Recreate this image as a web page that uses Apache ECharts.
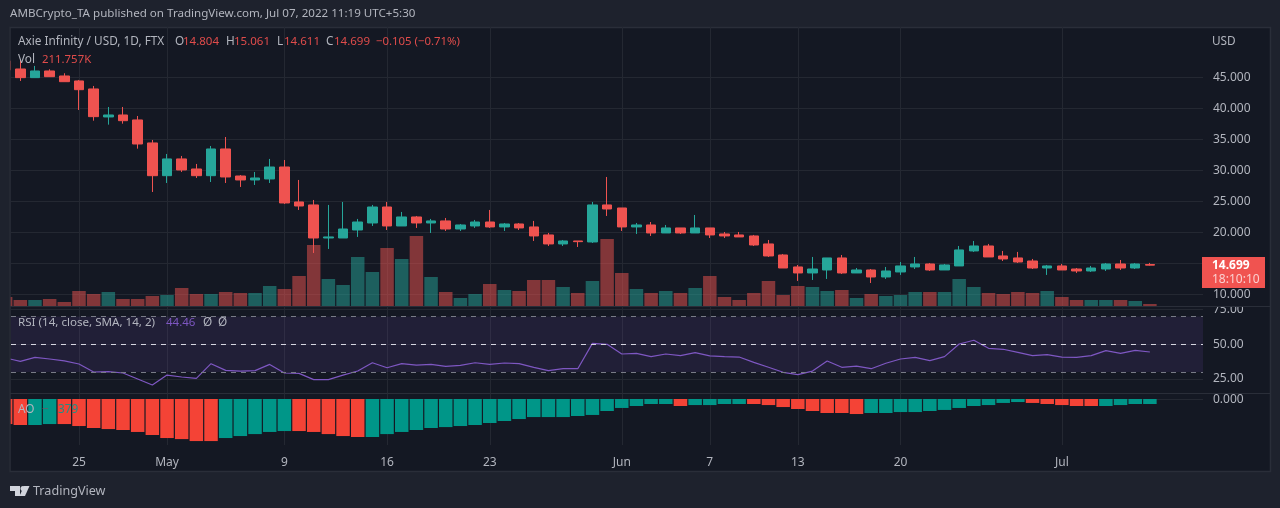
<!DOCTYPE html>
<html><head><meta charset="utf-8">
<style>html,body{margin:0;padding:0;background:#1e222d}#c{width:1280px;height:508px}</style>
<script src="https://cdn.jsdelivr.net/npm/echarts@6/dist/echarts.min.js"></script>
</head><body><div id="c"></div>
<script>
const firstDayOffset = -5; // Apr 20, counted from Apr 25
const opens = [47.63,46.34,44.94,46.02,45.21,44.41,43.12,38.60,38.92,38.12,34.41,
29.13,31.83,30.21,29.13,33.44,29.08,28.44,28.60,30.53,24.89,24.41,19.08,19.08,20.37,21.50,24.08,21.02,22.47,21.50,21.83,20.53,21.02,21.66,20.86,21.34,20.86,19.57,18.12,18.60,18.44,24.41,
23.92,20.86,21.18,19.89,20.70,19.89,20.70,19.73,19.57,19.41,18.12,16.34,14.41,13.44,13.92,15.86,13.44,13.92,12.79,13.60,14.41,14.89,13.92,14.57,16.99,17.79,16.18,15.86,15.37,14.24,
14.57,14.08,13.76,14.08,14.89,14.24,14.804];
const closes = [46.18,44.94,46.02,45.10,44.29,43.00,38.65,38.92,38.00,34.24,29.13,
31.83,30.05,29.13,33.44,28.92,28.44,28.76,30.53,24.73,24.24,19.08,19.25,20.53,21.66,24.08,21.02,22.47,21.50,21.83,20.53,21.18,21.66,20.86,21.34,20.70,19.41,18.12,18.60,18.49,24.41,23.76,
20.86,21.18,19.89,20.70,19.89,20.70,19.57,19.41,19.25,17.95,16.18,14.24,13.44,14.08,15.86,13.44,13.92,12.79,13.76,14.57,14.89,13.92,14.73,17.15,17.79,16.02,15.70,15.21,14.24,14.57,
13.92,13.76,14.24,14.89,14.24,14.89,14.699];
const lows = [46.02,44.41,44.94,45.05,44.29,39.73,38.00,37.36,37.52,33.49,26.50,
27.95,29.73,28.76,28.11,27.95,27.31,27.63,27.95,24.57,23.60,16.66,17.31,19.08,19.25,21.02,20.37,21.02,20.70,19.89,20.21,20.21,20.70,20.70,20.21,20.37,18.60,17.79,17.79,17.63,18.28,22.63,
20.21,19.73,19.41,19.89,19.73,19.89,19.08,19.08,19.25,17.79,16.02,14.24,12.15,12.31,12.47,13.28,13.44,11.82,12.47,13.12,14.08,13.76,13.92,14.57,16.83,16.02,15.37,15.05,14.08,13.12,
13.92,13.44,13.60,13.76,13.92,14.08,14.611];
const highs = [47.79,47.79,46.83,46.29,45.65,44.57,43.60,40.21,40.21,38.76,34.89,
32.63,32.31,31.02,33.92,35.37,29.24,29.73,31.83,31.66,28.44,25.21,24.41,24.89,22.15,24.41,24.89,23.28,22.63,22.15,22.31,21.34,21.99,23.60,21.50,21.50,21.83,19.89,18.76,18.60,24.89,28.92,
23.92,21.50,21.66,21.18,20.70,22.79,20.70,20.05,20.05,19.57,18.76,16.50,14.73,16.02,15.86,16.34,14.24,14.08,14.41,15.21,16.02,15.05,14.89,17.79,18.60,18.12,16.99,16.83,15.70,14.73,
14.89,14.24,14.57,15.05,15.53,15.05,15.061];
const volumes = [954,636,636,742,424,1590,1272,1484,742,742,1060,
1166,1908,1272,1272,1484,1378,1378,2120,1802,3180,6466,2862,2226,5194,3604,6148,4982,7420,3074,1484,848,1272,2332,1696,1590,2756,2756,2014,1378,2650,7102,
3498,1802,1378,1590,1378,1908,3180,954,636,1378,2650,1166,2120,2014,1590,1696,848,1272,1060,1166,1484,1484,1484,2862,2014,1378,1272,1484,1378,1590,
954,636,636,636,636,530,212];
const rsi = [40.1,37.7,40.6,39.4,38.0,35.8,30.0,30.3,29.3,25.0,20.6,
27.8,26.4,25.4,36.0,31.2,30.7,31.0,35.5,29.3,29.0,24.5,24.5,27.8,30.7,36.7,33.1,36.0,35.0,35.5,34.1,34.8,36.7,35.5,36.5,36.0,33.4,31.0,32.4,32.4,50.7,50.0,
43.0,43.5,41.1,43.0,41.8,44.0,41.6,41.1,40.8,37.0,33.4,29.8,28.1,30.7,38.0,33.4,34.3,32.4,36.3,39.4,40.6,38.2,41.1,50.2,52.9,47.1,46.4,44.2,41.8,42.5,
40.8,40.6,41.8,45.4,43.5,45.6,44.46];
const ao = [-1.90,-1.97,-1.97,-1.90,-1.90,-2.05,-2.20,-2.28,-2.35,-2.50,-2.73,
-2.96,-3.04,-3.19,-3.19,-2.96,-2.81,-2.66,-2.50,-2.43,-2.43,-2.50,-2.66,-2.81,-2.88,-2.88,-2.66,-2.50,-2.35,-2.20,-2.13,-2.05,-1.97,-1.82,-1.67,-1.52,-1.37,-1.37,-1.37,-1.29,-1.21,-0.91,
-0.68,-0.53,-0.38,-0.38,-0.53,-0.46,-0.46,-0.38,-0.38,-0.38,-0.46,-0.61,-0.76,-0.91,-1.06,-1.06,-1.14,-1.06,-1.06,-0.99,-0.99,-0.91,-0.83,-0.68,-0.53,-0.46,-0.30,-0.23,-0.30,-0.38,
-0.46,-0.53,-0.53,-0.53,-0.46,-0.38,-0.379];
const aoRising = ("00" + "11" + "00000000000" + "11111" + "00000" + "111111111111111111111" + "0" + "1111" + "00000000" + "11111111111" + "00000" + "1111").split("");
const tickDays = [0,6,14,21,28,37,43,49,56,67];
const tickLabels = ['25','May','9','16','23','Jun','7','13','20','Jul'];
const priceTicks = [10,15,20,25,30,35,40,45];
const priceLabels = ['10.000','','20.000','25.000','30.000','35.000','40.000','45.000'];
const rsiTicks = [25,50,75];

const FONT = '"Noto Sans", sans-serif';
const GRAY = '#b2b5be', RED = '#ef5350', TEAL = '#26a69a', GRID = '#242832', LEG_RED = '#e04c4b', OUTER = '#1e222d', EDGE = '#2a2e39', PANEL = '#141823';
const day = i => i + firstDayOffset;
const gridL = 11, gridW = 1192;
const xMin = -4.635, xMax = 76.62;

const candles = opens.map((o, i) => [day(i), o, closes[i], lows[i], highs[i]]);
const vol = volumes.map((v, i) => ({value: [day(i), v],
  itemStyle: {color: closes[i] >= opens[i] ? 'rgba(38,166,154,0.5)' : 'rgba(239,83,80,0.5)'}}));
const rsiLine = rsi.map((v, i) => [day(i), v]);
const aoBars = ao.map((v, i) => ({value: [day(i), v],
  itemStyle: {color: aoRising[i] === '1' ? '#009688' : '#f44336'}}));

const xAxis = (idx, labels) => ({
  type: 'value', gridIndex: idx, min: xMin, max: xMax,
  axisLine: {show: false},
  axisTick: {show: false, customValues: tickDays},
  splitLine: {show: true, lineStyle: {color: GRID, width: 1}},
  axisLabel: labels ? {show: true, customValues: tickDays, color: GRAY, fontFamily: FONT, fontSize: 12, margin: 12,
    formatter: v => tickLabels[tickDays.indexOf(v)] || ''} : {show: false}
});
const yAxis = (idx, min, max, ticks, fmt) => ({
  type: 'value', gridIndex: idx, position: 'right', min, max,
  axisLine: {show: false},
  axisTick: {show: false, customValues: ticks},
  splitLine: {show: true, lineStyle: {color: GRID, width: 1}},
  axisLabel: fmt ? {show: true, customValues: ticks, color: GRAY, fontFamily: FONT, fontSize: 12, margin: 10, formatter: fmt} : {show: false}
});

const T = (x, y, text, fill, size, extra) => ({type: 'text', x, y, z: 60, silent: true,
  style: Object.assign({text, fill, font: (size || 11.8) + 'px ' + FONT, textVerticalAlign: 'middle'}, extra || {})});

const graphics = [
  {type: 'rect', z: -10, silent: true, shape: {x: 9.5, y: 27.5, width: 1261, height: 444}, style: {fill: PANEL, stroke: EDGE, lineWidth: 1.5}},
  {type: 'rect', z: -9, silent: true, shape: {x: 10, y: 306, width: 1260, height: 1}, style: {fill: EDGE}},
  {type: 'rect', z: -9, silent: true, shape: {x: 10, y: 393, width: 1260, height: 1}, style: {fill: EDGE}},
  // outer margin and frame drawn over the day that runs off the left edge
  {type: 'rect', z: 40, silent: true, shape: {x: 0, y: 27, width: 10, height: 445}, style: {fill: OUTER}},
  {type: 'rect', z: 41, silent: true, shape: {x: 9.5, y: 27, width: 1.2, height: 445}, style: {fill: EDGE}},
  // the top of the 75.00 label is cut by the pane edge
  {type: 'rect', z: 41, silent: true, shape: {x: 1204, y: 301, width: 65, height: 5}, style: {fill: PANEL}},
  {type: 'rect', z: 42, silent: true, shape: {x: 1204, y: 306, width: 66, height: 1}, style: {fill: EDGE}},
  T(10, 14, 'AMBCrypto_TA published on TradingView.com, Jul 07, 2022 11:19 UTC+5:30', GRAY, 11.6),
  T(18, 42, 'Axie Infinity / USD, 1D, FTX', GRAY),
  T(175, 42, 'O', GRAY), T(183, 42, '14.804', LEG_RED, 11.5),
  T(226, 42, 'H', GRAY), T(234, 42, '15.061', LEG_RED, 11.5),
  T(277, 42, 'L', GRAY), T(284, 42, '14.611', LEG_RED, 11.5),
  T(326, 42, 'C', GRAY), T(334, 42, '14.699', LEG_RED, 11.5),
  T(376, 42, '\u22120.105 (\u22120.71%)', LEG_RED, 11.4),
  T(18, 60, 'Vol', GRAY), T(42, 60, '211.757K', LEG_RED, 11.4),
  T(1212, 41.5, 'USD', GRAY),
  T(1213, 399.5, '0.000', GRAY, 12),
  T(18, 322.5, 'RSI (14, close, SMA, 14, 2)', GRAY, 11.6),
  T(166, 322.5, '44.46', '#7e57c2', 11.5), T(203, 322.5, '\u00d8', GRAY), T(218, 322.5, '\u00d8', GRAY),
  T(18, 409.5, 'AO', GRAY), T(42, 409.5, '\u2212', '#5d606b'), T(58, 409.5, '379', '#1f8f85'),
  {type: 'rect', z: 55, silent: true, shape: {x: 1202, y: 257, width: 63, height: 31}, style: {fill: '#f05350'}},
  T(1212, 265.5, '14.699', '#ffffff', 12, {font: 'bold 12px ' + FONT}),
  T(1212, 280, '18:10:10', '#fbd0cf', 12),
  {type: 'polygon', z: 60, silent: true, shape: {points: [[10,486],[20,486],[20,496],[15,496],[15,491],[10,491]]}, style: {fill: '#d1d4dc'}},
  {type: 'circle', z: 60, silent: true, shape: {cx: 23, cy: 488.5, r: 2.5}, style: {fill: '#d1d4dc'}},
  {type: 'polygon', z: 60, silent: true, shape: {points: [[24,486],[29.5,486],[25,496],[19.5,496]]}, style: {fill: '#d1d4dc'}},
  T(33, 491, 'TradingView', GRAY, 12.6)
];

const chart = echarts.init(document.getElementById('c'), null, {renderer: 'canvas'});
chart.setOption({
  animation: false,
  backgroundColor: 'transparent',
  grid: [
    {left: gridL, width: gridW, top: 27, height: 279},
    {left: gridL, width: gridW, top: 306.5, height: 86.5},
    {left: gridL, width: gridW, top: 393.5, height: 51.5}
  ],
  xAxis: [xAxis(0, false), xAxis(1, false), xAxis(2, true)],
  yAxis: [
    yAxis(0, 8.11, 53.11, priceTicks, v => priceLabels[priceTicks.indexOf(v)] || ''),
    {type: 'value', gridIndex: 0, min: 0, max: 29574, show: false},
    yAxis(1, 14.86, 77.27, rsiTicks, v => v.toFixed(2)),
    yAxis(2, -3.488, 0.417, [0], null)
  ],
  series: [
    {name: 'Vol', type: 'bar', xAxisIndex: 0, yAxisIndex: 1, barWidth: 13.5, data: vol, z: 1, silent: true},
    {name: 'Price', type: 'candlestick', xAxisIndex: 0, yAxisIndex: 0, barWidth: 10, z: 3, silent: true, clip: false,
      encode: {x: 0, y: [1, 2, 3, 4]}, data: candles,
      itemStyle: {color: TEAL, color0: RED, borderColor: TEAL, borderColor0: RED, borderColorDoji: RED, borderWidth: 1}},
    {name: 'RSI', type: 'line', xAxisIndex: 1, yAxisIndex: 2, data: rsiLine, showSymbol: false, symbol: 'none', silent: true, z: 3,
      lineStyle: {color: '#7e57c2', width: 1.2},
      markArea: {silent: true, itemStyle: {color: 'rgba(126,87,194,0.13)'}, data: [[{yAxis: 70}, {yAxis: 30}]]},
      markLine: {silent: true, symbol: 'none', label: {show: false}, data: [
        {yAxis: 70, lineStyle: {color: '#787b86', type: [5, 5], width: 1}},
        {yAxis: 50, lineStyle: {color: '#d6d6e0', type: [5, 5], width: 1}},
        {yAxis: 30, lineStyle: {color: '#787b86', type: [5, 5], width: 1}}
      ]}},
    {name: 'AO', type: 'bar', xAxisIndex: 2, yAxisIndex: 3, barWidth: 13.5, data: aoBars, silent: true, z: 2}
  ],
  graphic: {elements: graphics}
});
</script></body></html>
